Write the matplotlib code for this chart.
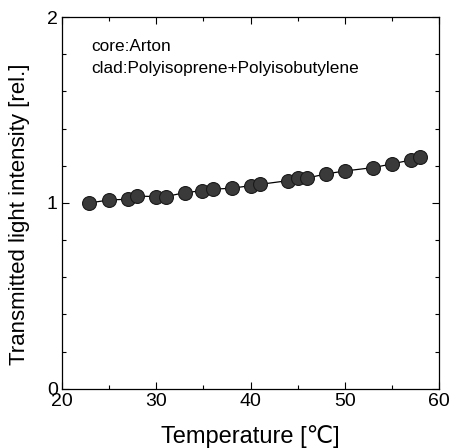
import matplotlib
matplotlib.use("Agg")
import matplotlib.pyplot as plt
from matplotlib.ticker import MultipleLocator

plt.rcParams['font.family'] = ['Liberation Sans', 'DejaVu Sans']

temperature = [22.9, 25.0, 27.0, 28.0, 30.0, 31.0, 33.0, 34.9, 36.0, 38.0,
               40.0, 41.0, 44.0, 45.0, 46.0, 48.0, 50.0, 53.0, 55.0, 57.0, 58.0]
intensity = [1.000, 1.016, 1.020, 1.037, 1.034, 1.034, 1.055, 1.066, 1.074, 1.079,
             1.093, 1.100, 1.120, 1.132, 1.134, 1.156, 1.172, 1.190, 1.210, 1.231, 1.245]

fig = plt.figure(figsize=(4.49, 4.48), dpi=100)
ax = fig.add_axes([0.138, 0.132, 0.840, 0.830])

ax.plot(temperature, intensity, color='black', lw=0.9, marker='o', ms=10,
        markerfacecolor='#3a3a3a', markeredgecolor='#1a1a1a', markeredgewidth=0.8)

ax.set_xlim(20, 60)
ax.set_ylim(0, 2)
ax.xaxis.set_major_locator(MultipleLocator(10))
ax.xaxis.set_minor_locator(MultipleLocator(5))
ax.yaxis.set_major_locator(MultipleLocator(1))
ax.yaxis.set_minor_locator(MultipleLocator(0.2))
ax.tick_params(which='both', direction='in', top=True, right=True, labelsize=14)
ax.tick_params(which='major', length=5, width=0.8)
ax.tick_params(which='minor', length=3, width=0.8)
ax.tick_params(axis='x', pad=3)
ax.tick_params(axis='y', pad=3)

for s in ax.spines.values():
    s.set_linewidth(0.9)

ax.set_xlabel('Temperature [℃]', fontsize=17, labelpad=11)
ax.set_ylabel('Transmitted light intensity [rel.]', fontsize=16)
ax.yaxis.set_label_coords(-0.085, 0.47)

ax.text(0.078, 0.94, 'core:Arton\nclad:Polyisoprene+Polyisobutylene',
        transform=ax.transAxes, fontsize=12.4, va='top', ha='left', linespacing=1.55)

fig.savefig('out.png', dpi=100)
